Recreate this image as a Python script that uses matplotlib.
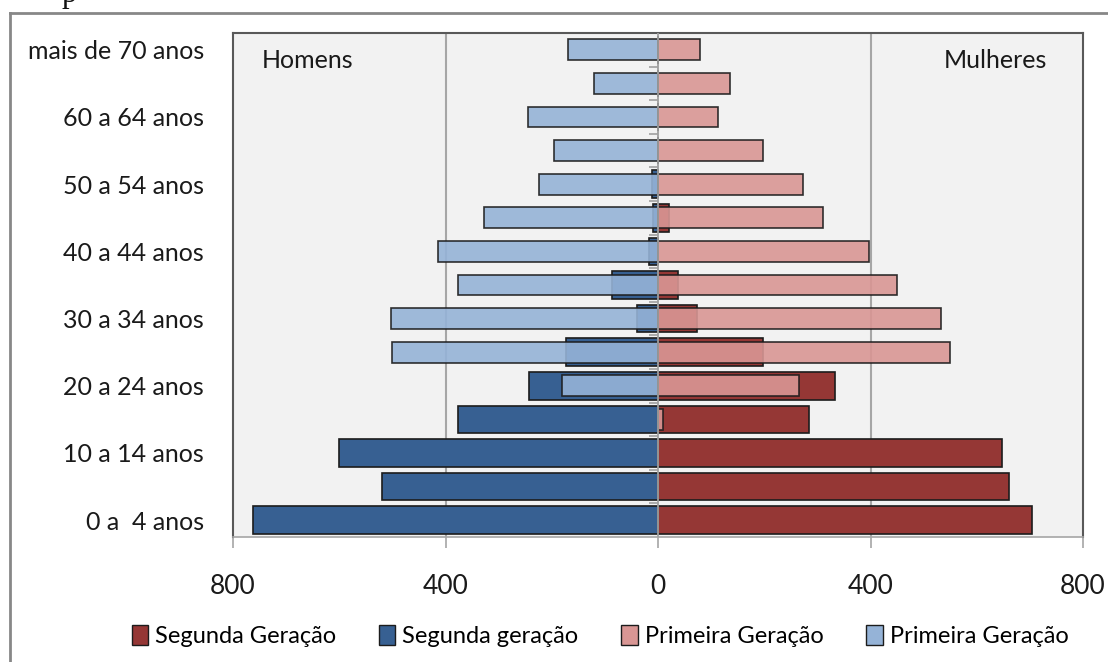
import matplotlib
matplotlib.use("Agg")
import matplotlib.pyplot as plt
from matplotlib.patches import Patch
from matplotlib.lines import Line2D
import numpy as np

# Age groups, youngest first
age_groups = ["0 a  4 anos", "5 a 9 anos", "10 a 14 anos", "15 a 19 anos",
              "20 a 24 anos", "25 a 29 anos", "30 a 34 anos", "35 a 39 anos",
              "40 a 44 anos", "45 a 49 anos", "50 a 54 anos", "55 a 59 anos",
              "60 a 64 anos", "65 a 69 anos", "mais de 70 anos"]

# Men (plotted to the left)
men_second = [762, 520, 600, 377, 242, 173, 39, 86, 17, 9, 12, 0, 0, 0, 0]
men_first = [0, 0, 0, 0, 180, 500, 503, 377, 414, 328, 224, 195, 244, 120, 170]

# Women (plotted to the right)
women_second = [704, 661, 647, 284, 333, 198, 74, 37, 0, 20, 0, 0, 0, 0, 0]
women_first = [0, 0, 0, 10, 265, 549, 533, 449, 397, 311, 272, 198, 112, 135, 79]

x_ticks = [-800, -400, 0, 400, 800]
legend_labels = ["Segunda Geração", "Segunda geração", "Primeira Geração", "Primeira Geração"]

C_DARK_RED = "#953735"
C_DARK_BLUE = "#376092"
C_PINK = "#D99694"
C_LIGHT_BLUE = "#95B3D7"
EDGE = "#1c1c1c"

plt.rcParams["font.family"] = ["Lato", "DejaVu Sans"]

fig = plt.figure(figsize=(11.08, 6.62), dpi=100)
ax = fig.add_axes([233 / 1108, 1 - 537 / 662, 850 / 1108, 504 / 662])
ax.set_facecolor("#f2f2f2")

y = np.arange(len(age_groups))
ms = np.array(men_second)
mf = np.array(men_first)
ws = np.array(women_second)
wf = np.array(women_first)

# second generation: wide bars underneath
ax.barh(y, -ms, height=0.82, color=C_DARK_BLUE, edgecolor=EDGE, linewidth=1.2, zorder=2)
ax.barh(y, ws, height=0.82, color=C_DARK_RED, edgecolor=EDGE, linewidth=1.2, zorder=2)
# first generation: narrower bars on top
ax.barh(y, -mf, height=0.62, color=C_LIGHT_BLUE, alpha=0.9, edgecolor=EDGE, linewidth=1.2, zorder=3)
ax.barh(y, wf, height=0.62, color=C_PINK, alpha=0.9, edgecolor=EDGE, linewidth=1.2, zorder=3)

# vertical gridlines and central axis
for xv in x_ticks[1:-1]:
    if xv != 0:
        ax.axvline(xv, color="#a6a6a6", lw=1.5, zorder=1)
ax.axvline(0, color="#a0a0a0", lw=1.3, zorder=4)
# small category tick marks on the central axis
ax.hlines(y[:-1] + 0.5, -17, 0, color="#a6a6a6", lw=1.3, zorder=1.5)

ax.set_xlim(-800, 800)
ax.set_ylim(-0.5, len(age_groups) - 0.5)

ax.set_xticks(x_ticks)
ax.set_xticklabels([str(abs(v)) for v in x_ticks], fontsize=19, color="#1a1a1a")
ax.tick_params(axis="x", direction="out", length=8, width=1.2, color="#a6a6a6", pad=19)

ax.set_yticks(y[::2])
ax.set_yticklabels(age_groups[::2], fontsize=18, color="#1a1a1a")
ax.tick_params(axis="y", length=0, pad=21)

for s in ["left", "top", "right"]:
    ax.spines[s].set_color("#595959")
    ax.spines[s].set_linewidth(1.5)
ax.spines["bottom"].set_color("#a6a6a6")
ax.spines["bottom"].set_linewidth(1.2)

ax.text(0.034, 0.946, "Homens", transform=ax.transAxes, fontsize=18,
        color="#1a1a1a", ha="left", va="center")
ax.text(0.958, 0.946, "Mulheres", transform=ax.transAxes, fontsize=18,
        color="#1a1a1a", ha="right", va="center")

handles = [Patch(facecolor=c, edgecolor=EDGE, linewidth=1.0)
           for c in (C_DARK_RED, C_DARK_BLUE, C_PINK, C_LIGHT_BLUE)]
fig.legend(handles, legend_labels, loc="center", bbox_to_anchor=(600 / 1108, 1 - 636 / 662),
           ncol=4, frameon=False, fontsize=17, handlelength=0.7, handleheight=0.9,
           handletextpad=0.3, columnspacing=1.8, borderaxespad=0)

# outer chart border (left and top edges)
fig.add_artist(Line2D([10 / 1108, 10 / 1108], [0, 1 - 13 / 662], transform=fig.transFigure,
                      color="#878787", lw=2))
fig.add_artist(Line2D([10 / 1108, 1], [1 - 13 / 662, 1 - 13 / 662], transform=fig.transFigure,
                      color="#878787", lw=2))

# title text running off the top edge
fig.text(62 / 1108, 1 - 2 / 662, "p", fontfamily="Liberation Serif", fontsize=22,
         va="baseline", ha="left", color="#111111")

fig.savefig("out.png", dpi=100)
